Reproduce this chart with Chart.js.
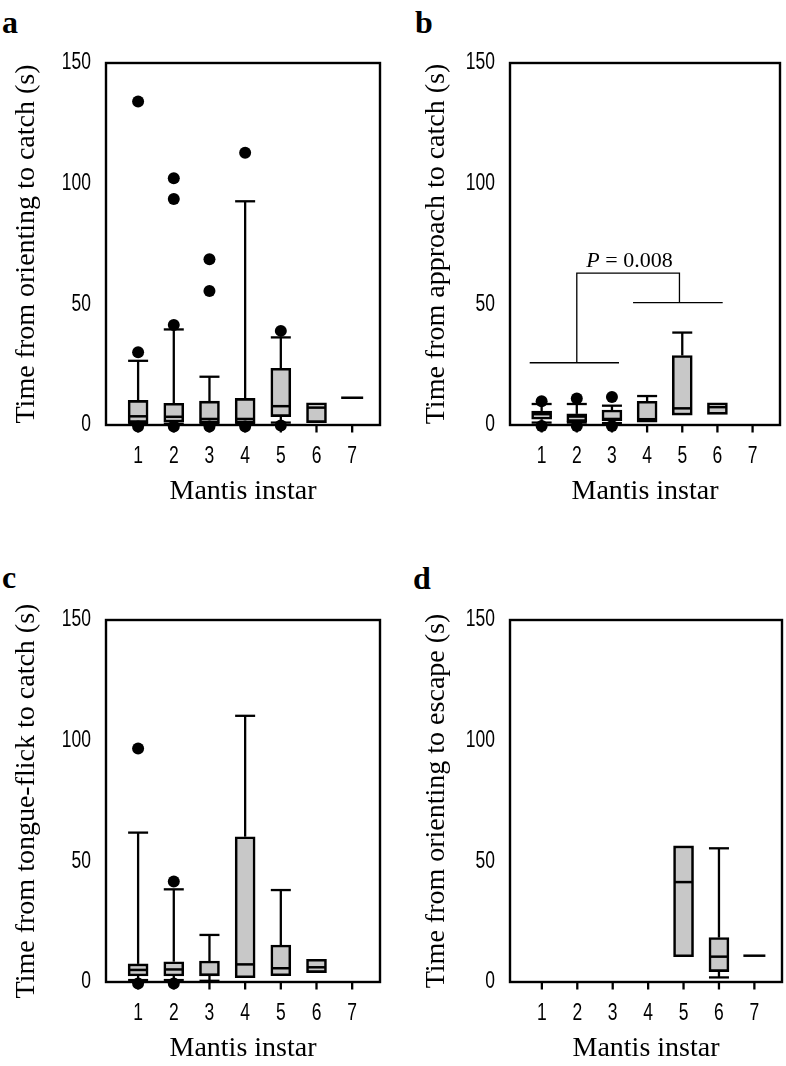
<!DOCTYPE html>
<html><head><meta charset="utf-8">
<script src="https://cdn.jsdelivr.net/npm/chart.js@4"></script>
<style>
body{margin:0;background:#fff;width:786px;height:1066px;position:relative;overflow:hidden}
.pan{position:absolute;width:393px;height:509px}
.lab{position:absolute;font:bold 32px 'Liberation Serif','Times New Roman',serif;line-height:1;color:#000}
</style></head><body>
<div class="lab" style="left:2px;top:6px">a</div>
<div class="lab" style="left:415px;top:6px">b</div>
<div class="lab" style="left:2px;top:561px">c</div>
<div class="lab" style="left:413px;top:562px">d</div>
<div class="pan" style="left:0;top:0"><canvas id="ca" width="393" height="509"></canvas></div>
<div class="pan" style="left:393px;top:0"><canvas id="cb" width="393" height="509"></canvas></div>
<div class="pan" style="left:0;top:557px"><canvas id="cc" width="393" height="509"></canvas></div>
<div class="pan" style="left:393px;top:557px"><canvas id="cd" width="393" height="509"></canvas></div>
<script>
// ---- data ----
const instars = [1, 2, 3, 4, 5, 6, 7];
const yTickValues = [0, 50, 100, 150];
const xTitle = 'Mantis instar';

// a: orienting to catch
const aQ1  = [1.0, 1.2, 0.8, 0.8, 3.5, 1.0, null];
const aQ3  = [10.2, 9.0, 9.9, 11.0, 23.5, 9.2, null];
const aMed = [3.6, 3.4, 2.5, 2.5, 7.8, 7.2, 11.3];
const aHi  = [26.6, 39.6, 20.0, 92.7, 36.3, null, null];
const aLo  = [0.5, 0.5, 0.5, 0.5, 1.0, null, null];
const aOut = [[30.1, 134, -0.6], [41.4, 93.6, 102.2, -0.6], [55.5, 68.7, -0.6], [112.8, -0.6], [39.0, -0.2], [], []];

// b: approach to catch
const bQ1  = [2.4, 1.4, 1.8, 1.2, 4.1, 4.4, null];
const bQ3  = [5.8, 4.6, 6.2, 9.8, 28.8, 9.2, null];
const bMed = [4.5, 3.5, 2.5, 2.4, 6.9, 7.4, null];
const bHi  = [8.7, 8.7, 8.0, 12.0, 38.3, null, null];
const bLo  = [1.0, 1.0, 0.8, null, null, null, null];
const bOut = [[9.8, -0.4], [11.0, -0.4], [11.6, -0.4], [], [], [], []];
// significance bracket (b)
const sigLeftBarX  = [0.66, 3.2];
const sigLeftBarY  = 25.8;
const sigRightBarX = [3.6, 6.15];
const sigRightBarY = 50.7;
const sigLinkX = [2, 2, 4.92, 4.92];
const sigLinkY = [25.8, 62.9, 62.9, 50.7];
const sigText = ['P', ' = 0.008'];
const sigTextPos = [3.5, 68];

// c: tongue-flick to catch
const cQ1  = [2.5, 2.5, 2.5, 1.8, 2.6, 3.9, null];
const cQ3  = [7.5, 8.4, 8.7, 60.2, 15.3, 9.4, null];
const cMed = [5.0, 5.2, 3.0, 7.3, 5.7, 6.1, null];
const cHi  = [61.9, 38.4, 19.5, 110.3, 38.1, null, null];
const cLo  = [0.8, 0.8, 0.5, null, null, null, null];
const cOut = [[96.8, -0.6], [41.6, -0.6], [], [], [], [], []];

// d: orienting to escape
const dQ1  = [null, null, null, null, 10.5, 4.3, null];
const dQ3  = [null, null, null, null, 56.4, 18.4, null];
const dMed = [null, null, null, null, 41.4, 10.5, 10.9];
const dHi  = [null, null, null, null, null, 55.4, null];
const dLo  = [null, null, null, null, null, 1.9, null];
const dOut = [[], [], [], [], [], [], []];

// ---- drawing ----
const SERIF = "'Liberation Serif','Times New Roman',serif";
const SANS = "'Liberation Sans',Arial,sans-serif";
const HALF = 10;
const SQUEEZE = 0.76;

function makePlugin(st, note) {
  return {
    id: 'boxplot',
    beforeDatasetsDraw(chart) {
      const ctx = chart.ctx, xs = chart.scales.x, ys = chart.scales.y;
      ctx.save();
      ctx.strokeStyle = '#000'; ctx.lineWidth = 2.3; ctx.lineCap = 'butt';
      instars.forEach((c, i) => {
        const px = xs.getPixelForValue(c);
        const seg = (v0, v1) => { ctx.beginPath(); ctx.moveTo(px, ys.getPixelForValue(v0)); ctx.lineTo(px, ys.getPixelForValue(v1)); ctx.stroke(); };
        const cap = (v) => { const py = ys.getPixelForValue(v); ctx.beginPath(); ctx.moveTo(px - HALF, py); ctx.lineTo(px + HALF, py); ctx.stroke(); };
        if (st.hi[i] != null) { seg(st.q3[i], st.hi[i]); cap(st.hi[i]); }
        if (st.lo[i] != null) { seg(st.q1[i], st.lo[i]); cap(st.lo[i]); }
      });
      ctx.restore();
    },
    afterDatasetsDraw(chart) {
      const ctx = chart.ctx, xs = chart.scales.x, ys = chart.scales.y, a = chart.chartArea;
      ctx.save();
      ctx.strokeStyle = '#000';
      instars.forEach((c, i) => {
        if (st.med[i] == null) return;
        const px = xs.getPixelForValue(c), py = ys.getPixelForValue(st.med[i]);
        const solo = st.q1[i] == null;
        ctx.lineWidth = 2.5;
        const hw = solo ? 11 : HALF - 1;
        ctx.beginPath(); ctx.moveTo(px - hw, py); ctx.lineTo(px + hw, py); ctx.stroke();
      });
      // frame
      ctx.lineWidth = 2.4;
      ctx.strokeRect(a.left, a.top, a.right - a.left, a.bottom - a.top);
      // x tick marks
      ctx.lineWidth = 2.3;
      instars.forEach(v => {
        const px = xs.getPixelForValue(v);
        ctx.beginPath(); ctx.moveTo(px, a.bottom); ctx.lineTo(px, a.bottom + 7.5); ctx.stroke();
      });
      // condensed tick labels
      ctx.fillStyle = '#000';
      ctx.font = '23px ' + SANS;
      ctx.textBaseline = 'middle';
      ctx.textAlign = 'right';
      yTickValues.forEach(v => {
        ctx.save(); ctx.translate(a.left - 15, ys.getPixelForValue(v)); ctx.scale(SQUEEZE, 1);
        ctx.fillText(String(v), 0, 0); ctx.restore();
      });
      ctx.textAlign = 'center';
      instars.forEach(v => {
        ctx.save(); ctx.translate(xs.getPixelForValue(v), a.bottom + 32); ctx.scale(SQUEEZE, 1);
        ctx.fillText(String(v), 0, 0); ctx.restore();
      });
      if (note) {
        const tx = xs.getPixelForValue(note.pos[0]), ty = ys.getPixelForValue(note.pos[1]);
        ctx.textBaseline = 'middle';
        ctx.textAlign = 'left';
        const f1 = 'italic 22px ' + SERIF, f2 = '22px ' + SERIF;
        ctx.font = f1; const w1 = ctx.measureText(note.text[0]).width;
        ctx.font = f2; const w2 = ctx.measureText(note.text[1]).width;
        const x0 = tx - (w1 + w2) / 2;
        ctx.font = f1; ctx.fillText(note.text[0], x0, ty);
        ctx.font = f2; ctx.fillText(note.text[1], x0 + w1, ty);
      }
      ctx.restore();
    }
  };
}

function build(id, yTitle, st, out, yWidth, rightPad, extra, note) {
  const boxes = [];
  instars.forEach((c, i) => { if (st.q1[i] != null) boxes.push({x: c, y: [st.q1[i], st.q3[i]]}); });
  const pts = [];
  instars.forEach((c, i) => out[i].forEach(v => pts.push({x: c, y: v})));
  const datasets = [
    {type: 'scatter', data: pts, pointRadius: 6, pointBackgroundColor: '#000', pointBorderWidth: 0, clip: false, order: 0},
    {type: 'bar', data: boxes, backgroundColor: '#c8c8c8', borderColor: '#000', borderWidth: 2.6, borderSkipped: false, barThickness: 20, order: 2}
  ].concat(extra || []);
  new Chart(document.getElementById(id), {
    type: 'bar',
    data: {datasets},
    options: {
      responsive: false, animation: false,
      layout: {padding: {top: 63, right: rightPad, left: 0, bottom: 0}},
      plugins: {legend: {display: false}, tooltip: {enabled: false}},
      scales: {
        x: {
          type: 'linear', min: 0.1, max: 7.78, offset: false,
          afterFit(s) { s.height = 84; },
          afterBuildTicks(s) { s.ticks = instars.map(v => ({value: v})); },
          ticks: {display: false},
          grid: {display: false},
          border: {display: false},
          title: {display: true, text: xTitle, color: '#000', font: {family: SERIF, size: 28}, padding: {top: 0, bottom: 1}}
        },
        y: {
          min: 0, max: 150,
          afterFit(s) { s.width = yWidth; },
          afterBuildTicks(s) { s.ticks = yTickValues.map(v => ({value: v})); },
          ticks: {display: false},
          grid: {display: false, drawTicks: false},
          border: {display: false},
          title: {display: true, text: yTitle, color: '#000', font: {family: SERIF, size: 28}, padding: {top: yWidth === 106 ? 10 : 27, bottom: 0}}
        }
      }
    },
    plugins: [makePlugin(st, note)]
  });
}

const lineDs = (xs, ys) => ({type: 'line', data: xs.map((x, k) => ({x, y: ys[k]})), borderColor: '#000', borderWidth: 1.3, pointRadius: 0, fill: false, clip: false, order: 1});

build('ca', 'Time from orienting to catch (s)', {q1: aQ1, q3: aQ3, med: aMed, hi: aHi, lo: aLo}, aOut, 106, 13);
build('cb', 'Time from approach to catch (s)', {q1: bQ1, q3: bQ3, med: bMed, hi: bHi, lo: bLo}, bOut, 117, 4, [
  lineDs(sigLeftBarX, [sigLeftBarY, sigLeftBarY]),
  lineDs(sigRightBarX, [sigRightBarY, sigRightBarY]),
  lineDs(sigLinkX, sigLinkY)
], {text: sigText, pos: sigTextPos});
build('cc', 'Time from tongue-flick to catch (s)', {q1: cQ1, q3: cQ3, med: cMed, hi: cHi, lo: cLo}, cOut, 106, 13);
build('cd', 'Time from orienting to escape (s)', {q1: dQ1, q3: dQ3, med: dMed, hi: dHi, lo: dLo}, dOut, 117, 4);
</script>
</body></html>
